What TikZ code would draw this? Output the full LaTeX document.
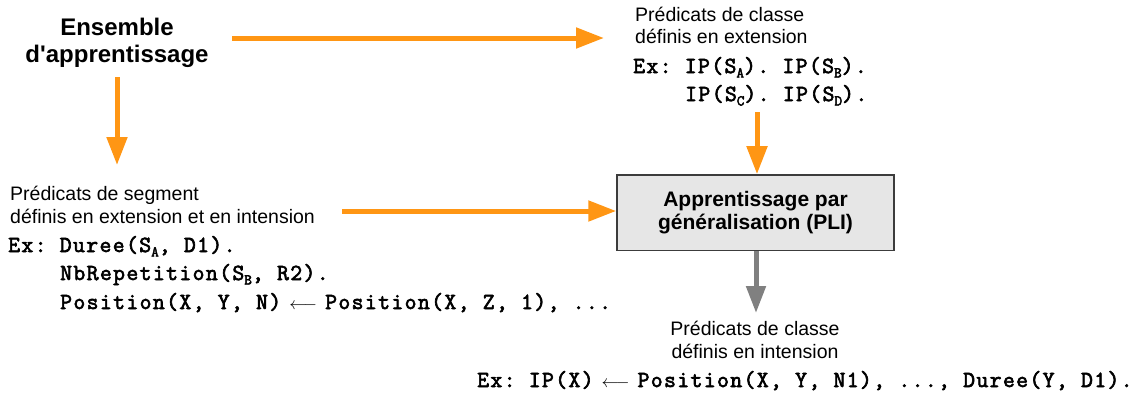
\documentclass[tikz,border=0pt]{standalone}
\usepackage{fontspec}
\setmainfont{Liberation Sans}
\newfontfamily\monob{Latin Modern Mono}[FakeBold=2.8, LetterSpace=6.1]
\usetikzlibrary{arrows.meta}
\definecolor{arrorange}{RGB}{255,150,20}
\definecolor{arrgray}{RGB}{128,128,128}
\definecolor{boxfill}{RGB}{230,230,230}
\definecolor{boxline}{RGB}{60,60,60}
\newcommand{\sbs}[1]{\raisebox{-4.5pt}{\fontsize{15}{15}\selectfont #1}}
\newcommand{\larr}{\makebox[44pt]{\fontsize{18}{18}\selectfont$\longleftarrow$}}
\tikzset{
  sanstxt/.style={font=\fontsize{19.5}{22}\selectfont, inner sep=0pt, anchor=base west},
  monotxt/.style={font=\frenchspacing\fontsize{23}{28}\selectfont\monob, inner sep=0pt, anchor=base west},
  titletxt/.style={font=\fontsize{24}{27}\selectfont\bfseries, inner sep=0pt, anchor=base},
  flow/.style={line width=5pt, draw=arrorange, -{Triangle[length=28pt,width=20pt]}, arrorange},
  flowgray/.style={line width=5pt, draw=arrgray, -{Triangle[length=27pt,width=19pt]}, arrgray},
  procbox/.style={draw=boxline, fill=boxfill, line width=1.5pt, minimum width=277pt, minimum height=75.5pt,
    inner sep=0pt, align=center, font=\fontsize{21}{23.5}\selectfont\bfseries}
}
\begin{document}
\begin{tikzpicture}[x=1pt,y=-1pt]
\useasboundingbox (0,0) rectangle (1132,397);
% title
\node[titletxt] (ens1) at (117,35) {Ensemble};
\node[titletxt] (ens2) at (117,62) {d\textquotesingle apprentissage};
% top right
\node[sanstxt] (tr1) at (635,21) {Prédicats de classe};
\node[sanstxt] (tr2) at (635,43) {définis en extension};
\node[monotxt] (tr3) at (633,73) {Ex: IP(S\sbs{A}). IP(S\sbs{B}).};
\node[monotxt] (tr4) at (685,101) {IP(S\sbs{C}). IP(S\sbs{D}).};
% box
\node[procbox] (box) at (755.5,212.7) {Apprentissage par\\généralisation (PLI)};
% left
\node[sanstxt] (l1) at (10,200) {Prédicats de segment};
\node[sanstxt] (l2) at (10,223) {définis en extension et en intension};
\node[monotxt] (l3) at (8,252) {Ex: Duree(S\sbs{A}, D1).};
\node[monotxt] (l4) at (60,280) {NbRepetition(S\sbs{B}, R2).};
\node[monotxt] (l5) at (60,309) {Position(X, Y, N)\larr Position(X, Z, 1), ...};
% bottom
\node[sanstxt, anchor=base] (b1) at (755,335) {Prédicats de classe};
\node[sanstxt, anchor=base] (b2) at (755,358) {définis en intension};
\node[monotxt] (b3) at (477,387) {Ex: IP(X)\larr Position(X, Y, N1), ..., Duree(Y, D1).};
% connectors
\coordinate (a1s) at (232,38);
\coordinate (a1e) at (604,38);
\coordinate (a2s) at (117,77);
\coordinate (a2e) at (117,165);
\coordinate (a3s) at (757,112);
\coordinate (a4s) at (342,211);
\coordinate (a5e) at (756,313);
\draw[flow] (a1s) -- (a1e);
\draw[flow] (a2s) -- (a2e);
\draw[flow] (a3s) -- (a3s |- box.north);
\draw[flow] (a4s) -- (a4s -| box.west);
\draw[flowgray] (a5e |- box.south) -- (a5e);
\end{tikzpicture}
\end{document}
